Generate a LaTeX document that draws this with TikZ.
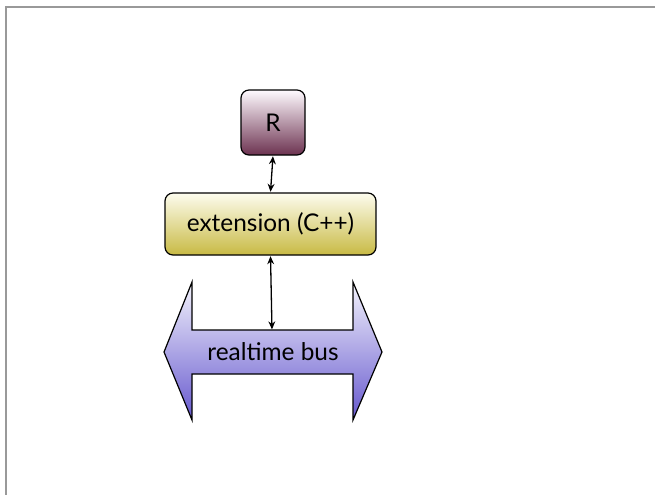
\documentclass[tikz,border=0pt]{standalone}
\usepackage{fontspec}
\setmainfont{Lato}
\usetikzlibrary{arrows.meta}

\begin{document}
\begin{tikzpicture}[x=0.5pt,y=-0.5pt,font=\fontsize{12.2}{14}\selectfont,>=Stealth,
  box/.style={draw,line width=0.6pt,rounded corners=4pt,align=center,inner sep=0pt},
  link/.style={<->,line width=0.65pt,shorten <=0.3pt,shorten >=0.3pt,
    >={Stealth[length=4pt,width=3.4pt]}}]
\useasboundingbox (0,0) rectangle (655,495);
% slide frame
\draw[gray!80,line width=1pt] (655,7) -- (6,7) -- (6,495);
% boxes
\node[box,minimum width=32pt,minimum height=32.5pt,
  top color=white!94!magenta!30,bottom color={rgb,255:red,108;green,50;blue,80}] (r) at (273,122.5) {R};
\node[box,minimum width=105.5pt,minimum height=31pt,
  top color={rgb,255:red,253;green,252;blue,238},bottom color={rgb,255:red,200;green,186;blue,68}] (ext) at (270.5,224) {extension (C++)};
% the bus as a double arrow
\shadedraw[line width=0.6pt,line join=miter,top color={rgb,255:red,243;green,243;blue,252},
  bottom color={rgb,255:red,102;green,88;blue,206}]
  (164,352) -- (192,282) -- (192,330) -- (353,330) -- (353,282) -- (382,352)
  -- (353,420) -- (353,374) -- (192,374) -- (192,420) -- cycle;
\node (bus) at (273,352) {realtime bus};
\coordinate (bustop) at (272,330);
% links
\draw[link] (r.south) -- (ext.north);
\draw[link] (ext.south) -- (bustop);
\end{tikzpicture}
\end{document}
